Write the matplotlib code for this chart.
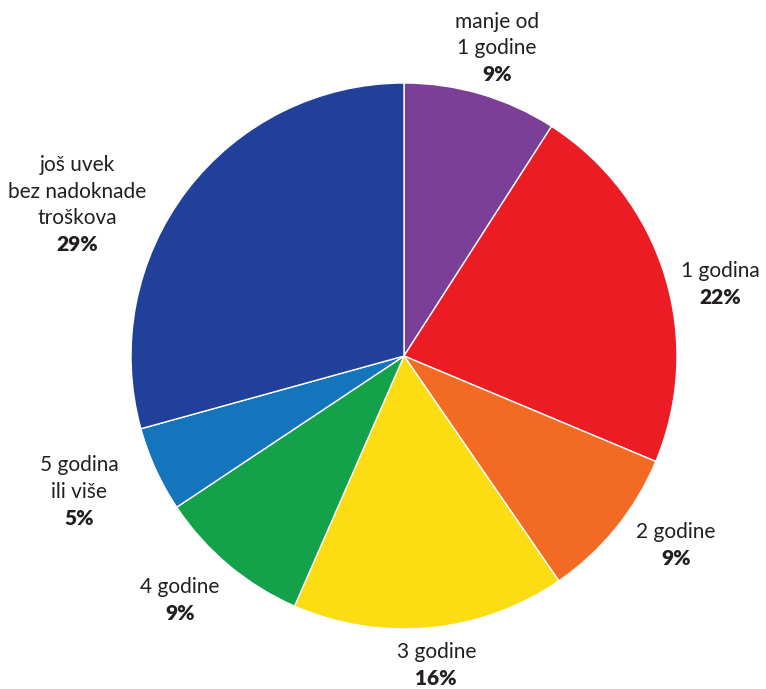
import numpy as np
import matplotlib.pyplot as plt

plt.rcParams['font.family'] = ['Lato', 'DejaVu Sans']

# shares, clockwise from the top
labels = ['manje od\n1 godine', '1 godina', '2 godine', '3 godine',
          '4 godine', '5 godina\nili više', 'još uvek\nbez nadoknade\ntroškova']
values = [9, 22, 9, 16, 9, 5, 29]
colors = ['#7B3F98', '#EC1C24', '#F26A24', '#FCDC12',
          '#13A14A', '#1475BC', '#21409A']

# figure in pixel coordinates (y up)
W, H = 766, 689
fig = plt.figure(figsize=(W / 100, H / 100), dpi=100)
ax = fig.add_axes([0, 0, 1, 1])

cx, cy, r = 404, H - 356, 273
wedges, _ = ax.pie(values, colors=colors, startangle=90, counterclock=False,
                   center=(cx, cy), radius=r, frame=True,
                   wedgeprops=dict(edgecolor='white', linewidth=1))
ax.set_xlim(0, W)
ax.set_ylim(0, H)
ax.set_aspect('equal')
ax.axis('off')

# label distance and angle nudge per wedge
dist = [1.178, 1.187, 1.215, 1.138, 1.213, 1.29, 1.319]
nudge = [0.4, 4.5, -4.2, -0.5, 2.6, 1.9, -12.5]
line_h = 26.5

for w, lab, v, d, n in zip(wedges, labels, values, dist, nudge):
    ang = np.deg2rad((w.theta1 + w.theta2) / 2 - n)
    x = cx + d * r * np.cos(ang)
    y = cy + d * r * np.sin(ang)
    lines = lab.split('\n') + [f'{v}%']
    top = y + (len(lines) - 1) / 2 * line_h
    for i, s in enumerate(lines):
        bold = i == len(lines) - 1
        ax.text(x, top - i * line_h, s, ha='center', va='center',
                fontsize=15, color='#231F20',
                fontweight='heavy' if bold else 'normal')

fig.savefig('out.png', dpi=100, facecolor='white')
